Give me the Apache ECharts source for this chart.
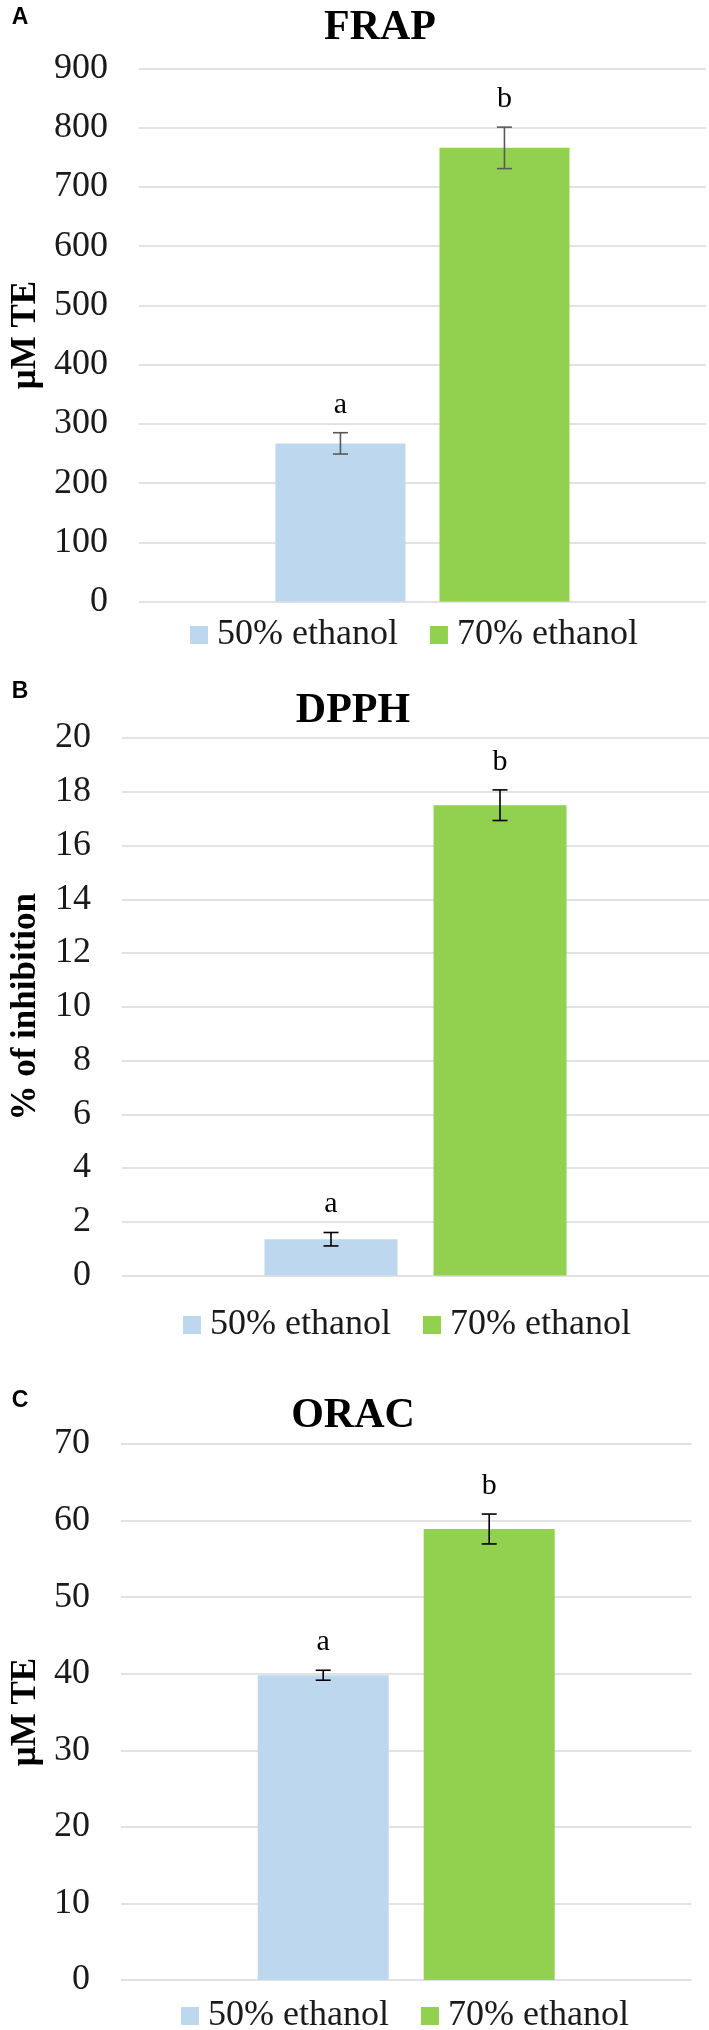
<!DOCTYPE html>
<html><head><meta charset="utf-8">
<script src="https://cdn.jsdelivr.net/npm/echarts@6/dist/echarts.min.js"></script>
<style>html,body{margin:0;padding:0;background:#fff}#c{width:709px;height:2030px}</style>
</head><body><div id="c"></div>
<script>
// ---- data ----
const seriesNames = ['50% ethanol', '70% ethanol'];
const panelLabels = ['A', 'B', 'C'];
const panelTitles = ['FRAP', 'DPPH', 'ORAC'];
const yAxisNames = ['μM TE', '% of inhibition', 'μM TE'];
const frapTicks = [0, 100, 200, 300, 400, 500, 600, 700, 800, 900];
const dpphTicks = [0, 2, 4, 6, 8, 10, 12, 14, 16, 18, 20];
const oracTicks = [0, 10, 20, 30, 40, 50, 60, 70];
const frapValues = [267, 766];
const frapErrors = [18, 35];
const dpphValues = [1.35, 17.5];
const dpphErrors = [0.25, 0.57];
const oracValues = [39.8, 58.9];
const oracErrors = [0.65, 1.95];
const sigLetters = ['a', 'b'];

// ---- styles / layout ----
const colors = ['#BDD7EE', '#92D050'];
const serif = 'Liberation Serif';
const panels = [
  { ticks: frapTicks, values: frapValues, errors: frapErrors,
    grid: { left: 129, top: 68.5, width: 577, height: 533 },
    barWidth: 130, gap: 34, errColor: '#595959', nameGap: 92,
    legendLeft: 190, legendTop: 617, titleX: 380, titleY: 28, labelY: 18 },
  { ticks: dpphTicks, values: dpphValues, errors: dpphErrors,
    grid: { left: 117, top: 738, width: 592, height: 537.5 },
    barWidth: 133, gap: 36, errColor: '#000', nameGap: 79,
    legendLeft: 183, legendTop: 1307, titleX: 353, titleY: 711.5, labelY: 692 },
  { ticks: oracTicks, values: oracValues, errors: oracErrors,
    grid: { left: 107.5, top: 1444, width: 584, height: 536 },
    barWidth: 131, gap: 35, errColor: '#000', nameGap: 70,
    legendLeft: 181, legendTop: 1998, titleX: 353, titleY: 1416, labelY: 1401 }
];

const option = {
  animation: false,
  backgroundColor: '#fff',
  textStyle: { fontFamily: serif },
  grid: [], xAxis: [], yAxis: [], series: [], legend: [], graphic: []
};

panels.forEach((p, i) => {
  option.grid.push(p.grid);
  option.xAxis.push({
    type: 'category', gridIndex: i, data: [''],
    axisLine: { show: false }, axisTick: { show: false }, axisLabel: { show: false }
  });
  const t = p.ticks;
  option.yAxis.push({
    type: 'value', gridIndex: i,
    min: t[0], max: t[t.length - 1], interval: t[1] - t[0],
    name: yAxisNames[i], nameLocation: 'middle', nameGap: p.nameGap,
    nameTextStyle: { fontFamily: serif, fontWeight: 'bold', fontSize: 35, color: '#000' },
    axisLine: { show: false }, axisTick: { show: false },
    axisLabel: { fontFamily: serif, fontSize: 36, color: '#1a1a1a', margin: 31 },
    splitLine: { show: true, lineStyle: { color: '#d9d9d9', width: 1.5 } }
  });
  seriesNames.forEach((name, k) => {
    option.series.push({
      type: 'bar', name: name, xAxisIndex: i, yAxisIndex: i,
      data: [p.values[k]], barWidth: p.barWidth,
      barGap: (p.gap / p.barWidth * 100).toFixed(1) + '%',
      itemStyle: { color: colors[k] }
    });
  });
  const off = (p.barWidth + p.gap) / 2;
  option.series.push({
    type: 'custom', xAxisIndex: i, yAxisIndex: i, z: 5, clip: false,
    encode: { x: 0, y: 1 },
    data: p.values.map((v, k) => [0, v, p.errors[k], k]),
    renderItem: function (params, api) {
      const v = api.value(1), e = api.value(2), k = api.value(3);
      const c = api.coord([0, v]);
      const x = c[0] + (k === 0 ? -off : off);
      const yt = api.coord([0, v + e])[1];
      const yb = api.coord([0, v - e])[1];
      const cap = 7.5;
      const ls = { stroke: p.errColor, lineWidth: 1.6 };
      return {
        type: 'group', children: [
          { type: 'line', shape: { x1: x, y1: yt, x2: x, y2: yb }, style: ls },
          { type: 'line', shape: { x1: x - cap, y1: yt, x2: x + cap, y2: yt }, style: ls },
          { type: 'line', shape: { x1: x - cap, y1: yb, x2: x + cap, y2: yb }, style: ls },
          { type: 'text', x: x, y: yt - 13,
            style: { text: sigLetters[params.dataIndex], font: '30px "Liberation Serif", serif',
                     fill: '#000', align: 'center', verticalAlign: 'bottom' } }
        ]
      };
    }
  });
  option.legend.push({
    data: seriesNames, left: p.legendLeft, top: p.legendTop, padding: 0,
    itemWidth: 18, itemHeight: 18, itemGap: 32, icon: 'rect',
    textStyle: { fontFamily: serif, fontSize: 36, color: '#1a1a1a', padding: [0, 0, 0, 4] },
    selectedMode: false
  });
  option.graphic.push({
    type: 'text', x: p.titleX, y: p.titleY,
    style: { text: panelTitles[i], font: 'bold 42px "Liberation Serif", serif', fill: '#000',
             align: 'center', verticalAlign: 'middle' }
  });
  option.graphic.push({
    type: 'text', x: 20, y: p.labelY,
    style: { text: panelLabels[i], font: 'bold 23px "Liberation Sans", Arial, sans-serif', fill: '#000',
             align: 'center', verticalAlign: 'middle' }
  });
});

const chart = echarts.init(document.getElementById('c'), null, { renderer: 'canvas' });
chart.setOption(option);
</script>
</body></html>
